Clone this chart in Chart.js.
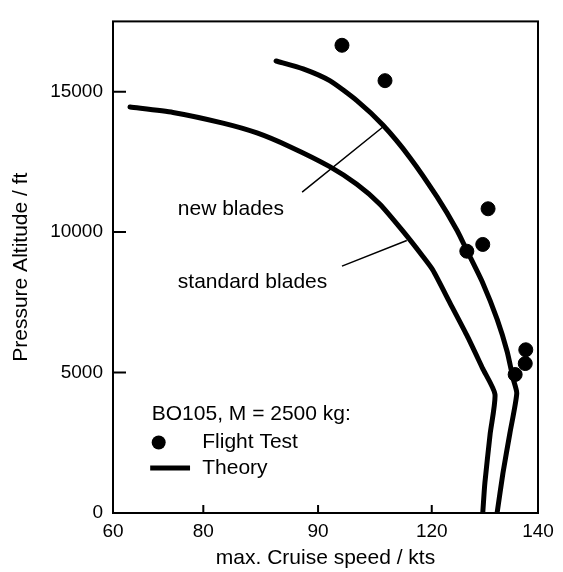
<!DOCTYPE html>
<html>
<head>
<meta charset="utf-8">
<script src="https://cdn.jsdelivr.net/npm/chart.js@4.4.1/dist/chart.umd.min.js"></script>
<style>
  body { margin: 0; background: #fff; }
  canvas { display: block; }
</style>
</head>
<body>
<canvas id="myChart" width="563" height="572"></canvas>
<script>
// theory curve, standard blades (speed in kts, altitude in ft)
var stdSpeed = [63.2, 71.3, 80.7, 87.1, 93.3, 100.8, 105.9, 110.2, 114.5, 118.3, 120.2, 123.4, 126.6, 129.6, 131.9, 131.0, 130.0, 129.6];
var stdAlt = [14450, 14260, 13880, 13530, 13040, 12330, 11700, 11000, 10050, 9140, 8650, 7490, 6330, 5140, 4230, 2830, 1070, 0];

// theory curve, new blades
var newSpeed = [90.7, 95.8, 100.8, 105.9, 110.8, 115.9, 121.0, 124.8, 126.6, 129.6, 132.3, 134.2, 135.3, 136.0, 134.7, 133.4, 132.3];
var newAlt = [16090, 15810, 15390, 14680, 13810, 12650, 11250, 10050, 9350, 8190, 6900, 5740, 4790, 4260, 2830, 1420, 0];

// flight test points
var testSpeed = [103.1, 111.2, 130.6, 129.6, 126.6, 137.7, 137.6, 135.7];
var testAlt = [16650, 15390, 10830, 9560, 9320, 5810, 5320, 4930];

// x axis tick marks and their printed labels
var xTickValues = [60, 77, 98.6, 120, 140];
var xTickLabels = ["60", "80", "90", "120", "140"];
var yTickValues = [0, 5000, 10000, 15000];

function toPoints(xs, ys) {
  var pts = [];
  for (var i = 0; i < xs.length; i++) {
    pts.push({ x: xs[i], y: ys[i] });
  }
  return pts;
}

var FONT = "'Liberation Sans', Arial, Helvetica, sans-serif";
Chart.defaults.color = "#000";
Chart.defaults.font.family = FONT;

// frame, inward ticks, labels with leader lines and the key
var framePlugin = {
  id: "frame",
  afterDatasetsDraw: function (chart) {
    var ctx = chart.ctx;
    var a = chart.chartArea;
    var x = chart.scales.x;
    var y = chart.scales.y;
    function px(v) { return x.getPixelForValue(v); }
    function py(v) { return y.getPixelForValue(v); }

    ctx.save();
    ctx.strokeStyle = "#000";
    ctx.lineWidth = 2;
    ctx.strokeRect(a.left, a.top, a.width, a.height);

    ctx.beginPath();
    yTickValues.forEach(function (v) {
      ctx.moveTo(a.left, py(v));
      ctx.lineTo(a.left + 13, py(v));
    });
    xTickValues.forEach(function (v) {
      ctx.moveTo(px(v), a.bottom);
      ctx.lineTo(px(v), a.bottom - 8);
    });
    ctx.stroke();

    // leader lines
    ctx.lineWidth = 1.5;
    ctx.beginPath();
    ctx.moveTo(px(95.6), py(11420));
    ctx.lineTo(px(110.8), py(13740));
    ctx.moveTo(px(103.1), py(8790));
    ctx.lineTo(px(115.3), py(9700));
    ctx.stroke();

    ctx.fillStyle = "#000";
    ctx.font = "21px " + FONT;
    ctx.textBaseline = "middle";
    ctx.textAlign = "left";
    ctx.fillText("new blades", px(72.2), py(10830));
    ctx.fillText("standard blades", px(72.2), py(8230));

    // key
    ctx.fillText("BO105, M = 2500 kg:", px(67.3), py(3530));
    ctx.beginPath();
    ctx.arc(px(68.6), py(2510), 7, 0, Math.PI * 2);
    ctx.fill();
    ctx.fillText("Flight Test", px(76.8), py(2510));
    ctx.lineWidth = 5;
    ctx.beginPath();
    ctx.moveTo(px(67.0), py(1600));
    ctx.lineTo(px(74.5), py(1600));
    ctx.stroke();
    ctx.fillText("Theory", px(76.8), py(1600));
    ctx.restore();
  }
};

var ctx = document.getElementById("myChart");
var myChart = new Chart(ctx, {
  type: "scatter",
  data: {
    datasets: [
      {
        label: "standard blades",
        data: toPoints(stdSpeed, stdAlt),
        showLine: true,
        borderColor: "#000",
        borderWidth: 5,
        borderCapStyle: "round",
        borderJoinStyle: "round",
        pointRadius: 0,
        tension: 0.2,
      },
      {
        label: "new blades",
        data: toPoints(newSpeed, newAlt),
        showLine: true,
        borderColor: "#000",
        borderWidth: 5,
        borderCapStyle: "round",
        borderJoinStyle: "round",
        pointRadius: 0,
        tension: 0.2,
      },
      {
        label: "Flight Test",
        data: toPoints(testSpeed, testAlt),
        showLine: false,
        backgroundColor: "#000",
        borderColor: "#000",
        pointRadius: 7,
      },
    ],
  },
  options: {
    responsive: false,
    animation: false,
    layout: { padding: { top: 14, right: 25, left: 0, bottom: 0 } },
    plugins: {
      legend: { display: false },
      tooltip: { enabled: false },
    },
    scales: {
      x: {
        type: "linear",
        min: 60,
        max: 140,
        afterBuildTicks: function (scale) {
          scale.ticks = xTickValues.map(function (v) { return { value: v }; });
        },
        afterFit: function (scale) { scale.height = 59; },
        ticks: {
          padding: 7,
          maxRotation: 0,
          font: { size: 19 },
          callback: function (value, index) { return xTickLabels[index]; },
        },
        grid: { display: false, drawTicks: false },
        border: { display: false },
        title: {
          display: true,
          text: "max. Cruise speed / kts",
          font: { size: 21 },
          padding: { top: 0, bottom: 1 },
        },
      },
      y: {
        type: "linear",
        min: 0,
        max: 17500,
        afterBuildTicks: function (scale) {
          scale.ticks = yTickValues.map(function (v) { return { value: v }; });
        },
        afterFit: function (scale) { scale.width = 113; },
        ticks: {
          padding: 10,
          font: { size: 19 },
          callback: function (value) { return String(value); },
        },
        grid: { display: false, drawTicks: false },
        border: { display: false },
        title: {
          display: true,
          text: "Pressure Altitude / ft",
          font: { size: 21 },
          padding: { top: 9, bottom: 0 },
        },
      },
    },
  },
  plugins: [framePlugin],
});
</script>
</body>
</html>
